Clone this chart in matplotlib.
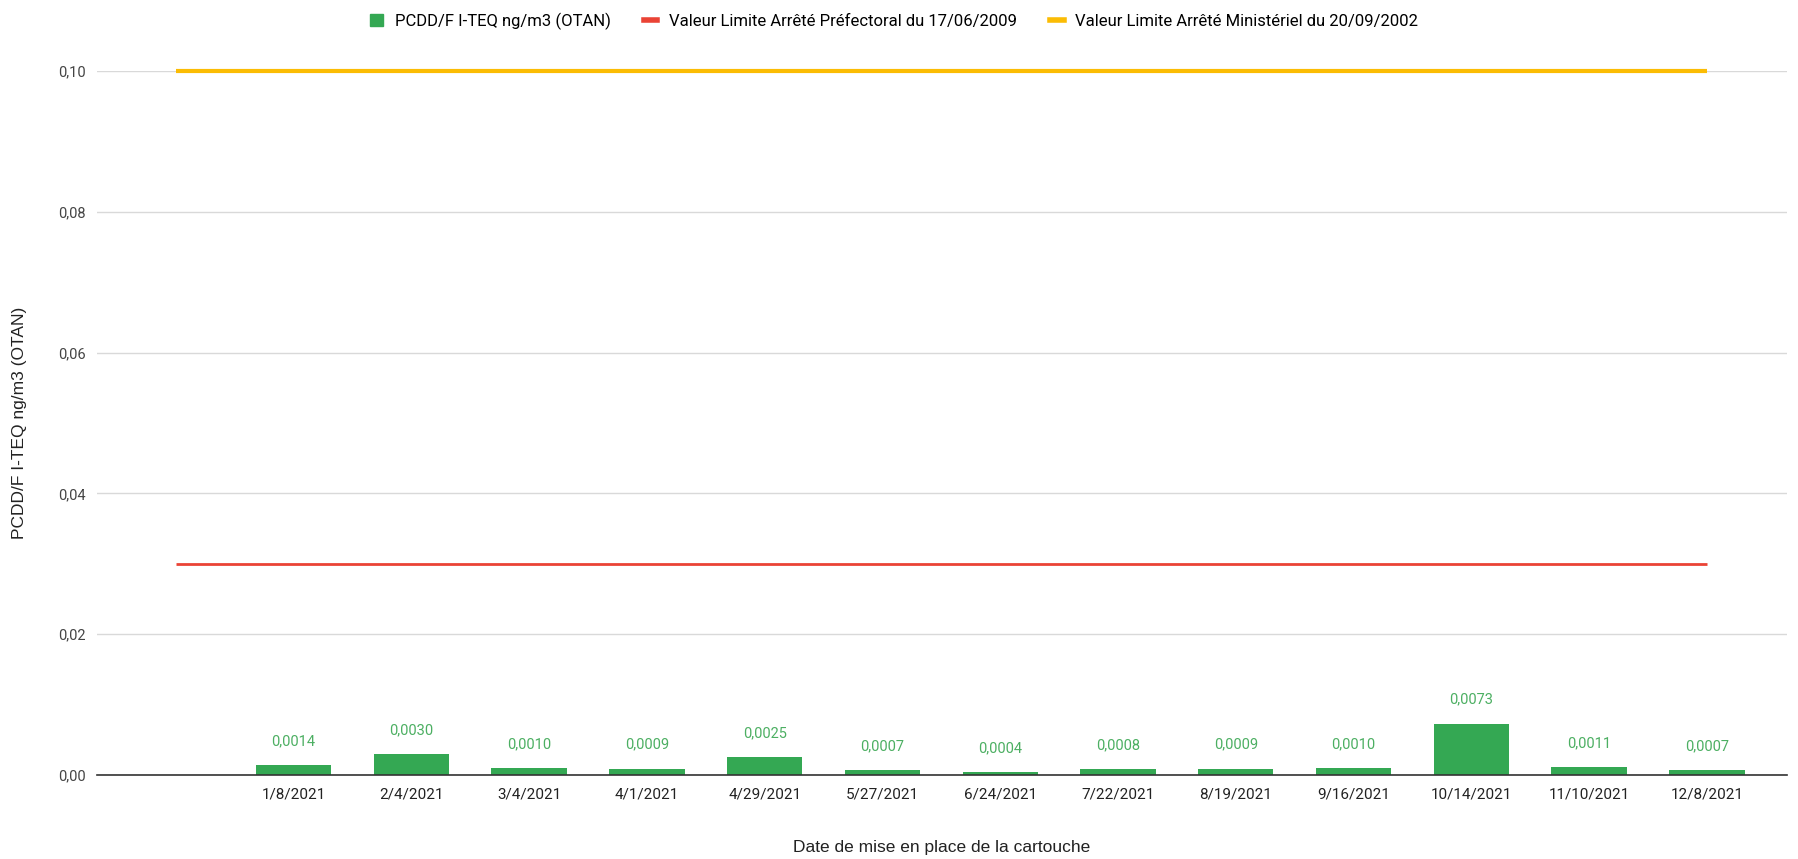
import numpy as np
import matplotlib
matplotlib.use("Agg")
import matplotlib.pyplot as plt
from matplotlib.lines import Line2D
from matplotlib.patches import Patch

# first category is empty in the source sheet
dates = ["", "1/8/2021", "2/4/2021", "3/4/2021", "4/1/2021", "4/29/2021", "5/27/2021",
         "6/24/2021", "7/22/2021", "8/19/2021", "9/16/2021", "10/14/2021",
         "11/10/2021", "12/8/2021"]
pcdd = [np.nan, 0.0014, 0.0030, 0.0010, 0.0009, 0.0025, 0.0007, 0.0004,
        0.0008, 0.0009, 0.0010, 0.0073, 0.0011, 0.0007]
limite_pref = [0.03] * 14
limite_min = [0.10] * 14

green = "#34a853"
red = "#ea4335"
yellow = "#fbbc04"
narrow = ["Roboto", "DejaVu Sans"]
arial = ["Liberation Sans", "DejaVu Sans"]

fig = plt.figure(figsize=(17.99, 8.59), dpi=100)
ax = fig.add_axes([0.0539, 0.0978, 0.9394, 0.8195])

x = np.arange(len(dates))
ax.bar(x, pcdd, width=0.64, color=green, zorder=3)
ax.plot(x, limite_pref, color=red, lw=2, zorder=4, solid_capstyle="butt")
ax.plot(x, limite_min, color=yellow, lw=3, zorder=4, clip_on=False, solid_capstyle="butt")

for xi, v in zip(x, pcdd):
    if np.isnan(v):
        continue
    ax.annotate(f"{v:.4f}".replace(".", ","), (xi, v), xytext=(0, 24),
                textcoords="offset pixels", ha="center", va="center",
                color="#4caf62", fontsize=10.5, family=narrow)

ax.set_xlim(-0.67, 13.68)
ax.set_ylim(0, 0.10)
yt = [0, 0.02, 0.04, 0.06, 0.08, 0.10]
ax.set_yticks(yt)
ax.set_yticklabels([f"{t:.2f}".replace(".", ",") for t in yt], family=narrow,
                   fontsize=10.5, color="#444444")
ax.set_xticks(x)
ax.set_xticklabels(dates, family=narrow, fontsize=11, color="#222222")
ax.tick_params(axis="both", length=0)
ax.tick_params(axis="y", pad=8)
ax.tick_params(axis="x", pad=9)

ax.grid(axis="y", color="#d9d9d9", lw=1, zorder=0)
for s in ["top", "right", "left"]:
    ax.spines[s].set_visible(False)
ax.spines["bottom"].set_color("#333333")
ax.spines["bottom"].set_linewidth(1.2)
ax.spines["bottom"].set_zorder(5)

ax.set_xlabel("Date de mise en place de la cartouche", family=arial, fontsize=12.5,
              color="#222222", va="center")
ax.set_ylabel("PCDD/F I-TEQ ng/m3 (OTAN)", family=arial, fontsize=12.5,
              color="#222222", va="center")
ax.xaxis.set_label_coords(0.5, -0.103)
ax.yaxis.set_label_coords(-0.0456, 0.5)

handles = [Patch(color=green),
           Line2D([], [], color=red, lw=4),
           Line2D([], [], color=yellow, lw=4)]
labels = ["PCDD/F I-TEQ ng/m3 (OTAN)",
          "Valeur Limite Arrêté Préfectoral du 17/06/2009",
          "Valeur Limite Arrêté Ministériel du 20/09/2002"]
fig.legend(handles, labels, loc="upper center", bbox_to_anchor=(0.497, 1.003), ncol=3,
           frameon=False, prop={"family": narrow, "size": 12},
           handlelength=0.8, handleheight=0.8, handletextpad=0.7, columnspacing=2.0)

fig.savefig("out.png", dpi=100, facecolor="white")
